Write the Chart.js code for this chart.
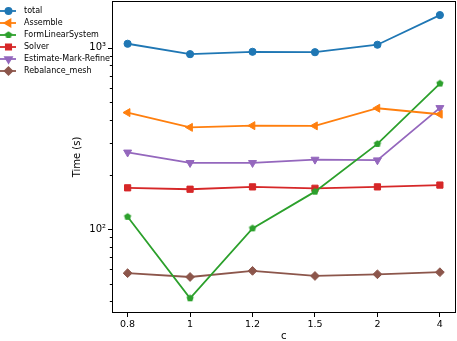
<!DOCTYPE html>
<html>
<head>
<meta charset="utf-8">
<script src="https://cdn.jsdelivr.net/npm/chart.js@4.4.1/dist/chart.umd.min.js"></script>
<style>
  html, body { margin: 0; padding: 0; background: #fff; }
  #wrap { width: 457px; height: 341px; }
</style>
</head>
<body>
<div id="wrap"><canvas id="chart"></canvas></div>
<script>
// valores (eixo y em escala log)
const cLabels = ['0.8', '1', '1.2', '1.5', '2', '4'];
const total = [1052, 922, 950, 945, 1039, 1514];
const assemble = [439, 364, 372, 371, 464, 430];
const formLinearSystem = [117, 41.6, 101, 161, 295, 635];
const solver = [169, 166, 171, 168, 171, 175];
const estimateMarkRefine = [265, 232, 232, 242, 240, 466];
const rebalanceMesh = [57.2, 54.5, 58.9, 55.2, 56.4, 57.9];
const yTicks = [40, 50, 60, 70, 80, 90, 100, 200, 300, 400, 500, 600, 700, 800, 900, 1000];

const FONT = "'DejaVu Sans', sans-serif";

// pentágono para o FormLinearSystem
function pentagon(color, r) {
    const c = document.createElement('canvas');
    const s = Math.ceil(r * 2 + 2);
    c.width = s; c.height = s;
    const ctx = c.getContext('2d');
    ctx.fillStyle = color;
    ctx.beginPath();
    for (let i = 0; i < 5; i++) {
        const a = -Math.PI / 2 + i * 2 * Math.PI / 5;
        const px = s / 2 + r * Math.cos(a), py = s / 2 + r * Math.sin(a);
        if (i === 0) ctx.moveTo(px, py); else ctx.lineTo(px, py);
    }
    ctx.closePath();
    ctx.fill();
    return c;
}

function serie(label, values, color, style, radius, rotation) {
    return {
        label: label,
        data: values.map((v, i) => ({ x: i, y: v })),
        borderColor: color,
        backgroundColor: color,
        pointBackgroundColor: color,
        pointBorderColor: color,
        borderWidth: 1.8,
        pointStyle: style,
        pointRadius: radius,
        pointHoverRadius: radius,
        pointBorderWidth: 1,
        pointRotation: rotation || 0,
        tension: 0
    };
}

const datasets = [
    serie('total', total, '#1f77b4', 'circle', 3.6),
    serie('Assemble', assemble, '#ff7f0e', 'triangle', 4.6, -90),
    serie('FormLinearSystem', formLinearSystem, '#2ca02c', pentagon('#2ca02c', 3.8), 3.8),
    serie('Solver', solver, '#d62728', 'rect', 4.4),
    serie('Estimate-Mark-Refine', estimateMarkRefine, '#9467bd', 'triangle', 4.6, 180),
    serie('Rebalance_mesh', rebalanceMesh, '#8c564b', 'rectRot', 4.4)
];

function semPadding(scale) {
    scale.paddingTop = 0;
    scale.paddingBottom = 0;
    scale.paddingLeft = 0;
    scale.paddingRight = 0;
}

// moldura, ticks do eixo y e legenda
const extras = {
    id: 'extras',
    afterDraw(chart) {
        const ctx = chart.ctx;
        const a = chart.chartArea;
        const y = chart.scales.y;
        ctx.save();
        ctx.strokeStyle = '#000';
        ctx.lineWidth = 1;
        ctx.strokeRect(Math.round(a.left) + 0.5, Math.round(a.top) + 0.5,
            Math.round(a.right - a.left) - 1, Math.round(a.bottom - a.top) - 1);
        yTicks.forEach(v => {
            const py = Math.round(y.getPixelForValue(v)) + 0.5;
            const major = v === 100 || v === 1000;
            ctx.beginPath();
            ctx.moveTo(Math.round(a.left), py);
            ctx.lineTo(Math.round(a.left) - (major ? 4 : 2.2), py);
            ctx.stroke();
        });

        // legenda
        ctx.font = '8px ' + FONT;
        ctx.textBaseline = 'middle';
        chart.data.datasets.forEach((ds, i) => {
            const ly = 11 + i * 12;
            ctx.strokeStyle = ds.borderColor;
            ctx.lineWidth = 1.8;
            ctx.beginPath();
            ctx.moveTo(0, ly);
            ctx.lineTo(16, ly);
            ctx.stroke();
            ctx.fillStyle = ds.backgroundColor;
            Chart.helpers.drawPoint(ctx, {
                pointStyle: ds.pointStyle,
                rotation: ds.pointRotation,
                radius: ds.pointRadius * 0.85,
                borderWidth: 1
            }, 8.5, ly);
            ctx.fillStyle = '#000';
            ctx.fillText(ds.label, 24, ly);
        });
        ctx.restore();
    }
};

new Chart(document.getElementById('chart'), {
    type: 'line',
    data: { datasets: datasets },
    options: {
        responsive: true,
        maintainAspectRatio: false,
        animation: false,
        events: [],
        layout: { autoPadding: false, padding: { top: 1, right: 1.5, left: 0, bottom: 0 } },
        plugins: {
            legend: { display: false },
            tooltip: { enabled: false }
        },
        scales: {
            x: {
                type: 'linear',
                min: -0.25,
                max: 5.25,
                afterFit: scale => { scale.height = 28; semPadding(scale); },
                afterBuildTicks: scale => {
                    scale.ticks = cLabels.map((l, i) => ({ value: i }));
                },
                border: { display: false },
                grid: { drawOnChartArea: false, drawTicks: true, tickLength: 4, color: '#000' },
                ticks: {
                    color: '#000',
                    font: { family: FONT, size: 9.5 },
                    padding: 2,
                    maxRotation: 0,
                    autoSkip: false,
                    callback: v => cLabels[v]
                },
                title: {
                    display: true,
                    text: 'c',
                    color: '#000',
                    font: { family: FONT, size: 10 },
                    padding: { top: 0, bottom: -1 }
                }
            },
            y: {
                type: 'logarithmic',
                min: 34.5,
                max: 1810,
                afterFit: scale => { scale.width = 112; semPadding(scale); },
                afterBuildTicks: scale => {
                    scale.ticks = yTicks.map(v => ({ value: v, major: v === 100 || v === 1000 }));
                },
                border: { display: false },
                grid: { drawOnChartArea: false, drawTicks: false },
                ticks: {
                    color: '#000',
                    font: { family: FONT, size: 10 },
                    padding: 6,
                    autoSkip: false,
                    callback: v => v === 100 ? '10²' : (v === 1000 ? '10³' : '')
                },
                title: {
                    display: true,
                    text: 'Time (s)',
                    color: '#000',
                    font: { family: FONT, size: 10 },
                    padding: { top: 71, bottom: 0 }
                }
            }
        }
    },
    plugins: [extras]
});
</script>
</body>
</html>
